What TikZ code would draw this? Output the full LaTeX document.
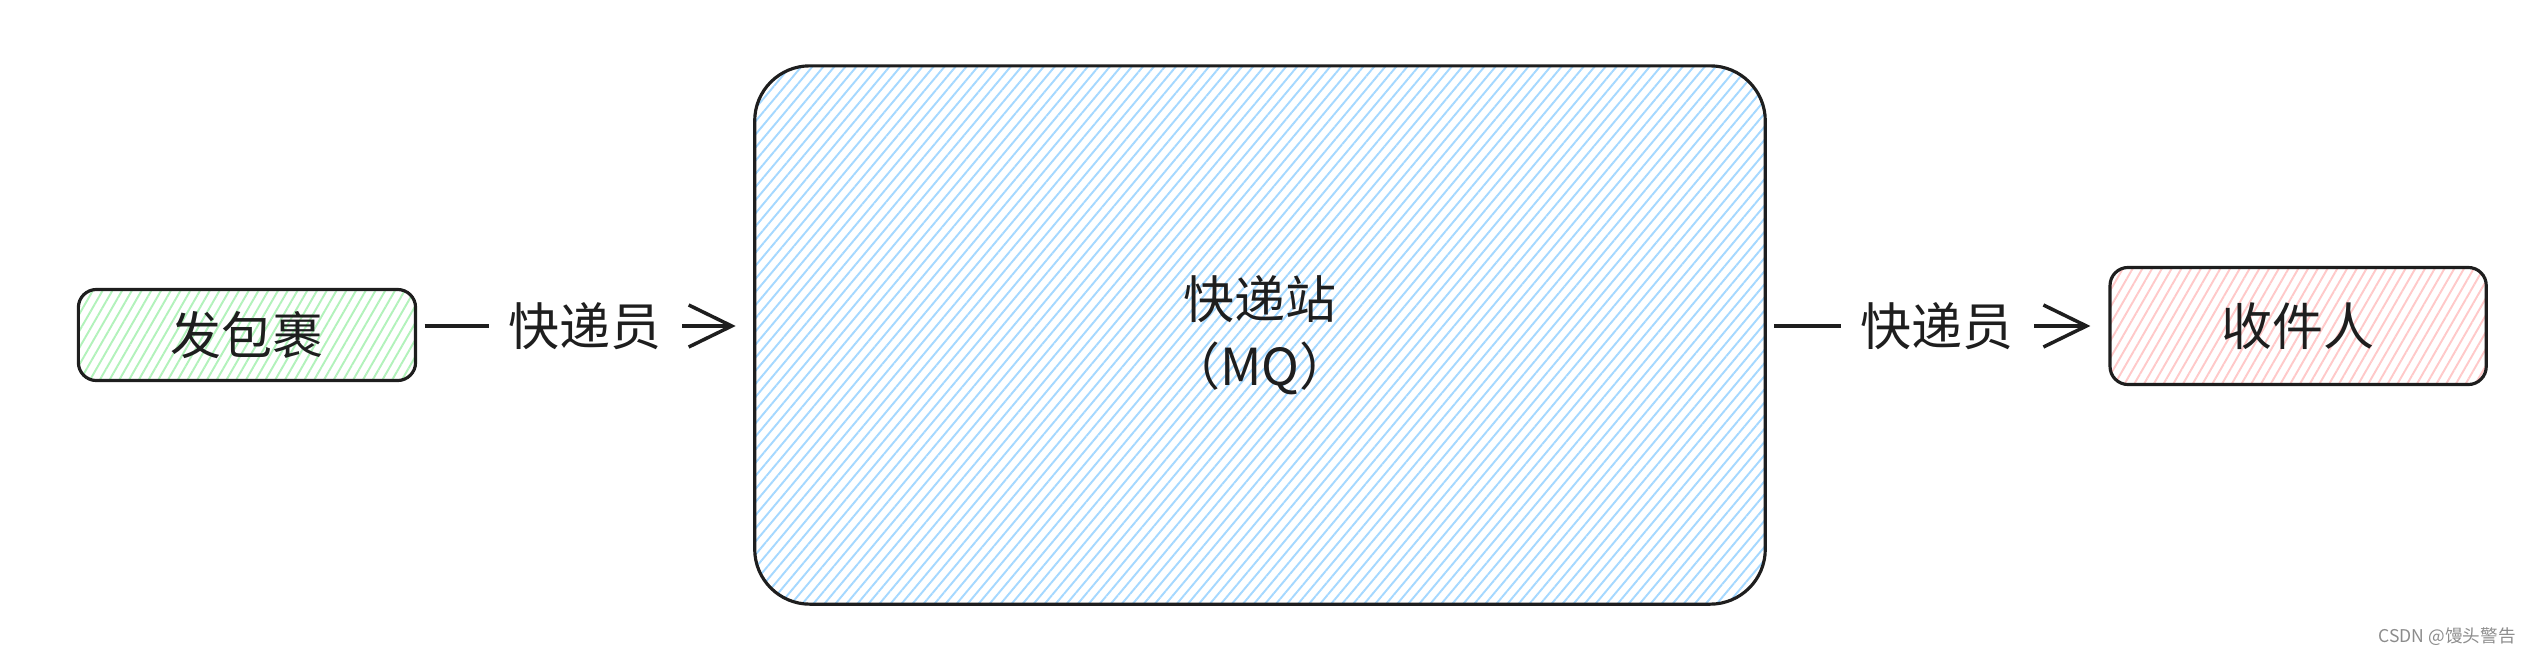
\documentclass[tikz,border=0pt]{standalone}
\usepackage{fontspec}
\newfontfamily\cjk{Noto Sans CJK SC}
\usetikzlibrary{positioning, arrows.meta, patterns.meta}

\definecolor{ink}{HTML}{1E1E1E}
\definecolor{bluehatch}{HTML}{A5D8FF}
\definecolor{greenhatch}{HTML}{B2F2BB}
\definecolor{redhatch}{HTML}{FFC9C9}

\begin{document}
\begin{tikzpicture}[x=0.01cm, y=-0.01cm,
		every node/.style={font=\cjk\fontsize{14.5}{19}\selectfont, text=ink, align=center},
		box/.style={draw=ink, line width=0.9pt, rounded corners=0.18cm, inner sep=0pt},
		hatch/.style={pattern={Lines[angle=#1, distance=2.4pt, line width=0.55pt]}},
		conn/.style={draw=ink, line width=1pt, shorten <=0.08cm, shorten >=0.18cm,
			-{Straight Barb[length=0.43cm, width=0.42cm, line width=1pt]}},
		lbl/.style={fill=white, inner xsep=0.2cm, inner ysep=2pt},
		]
		\useasboundingbox (0,0) rectangle (2541,654);
		
		\node[box, hatch=50, pattern color=bluehatch, rounded corners=0.55cm,
			minimum width=10.1cm, minimum height=5.38cm] (mq) at (1260,335) {快递站\\（MQ）};
		\node[box, hatch=60, pattern color=greenhatch,
			minimum width=3.37cm, minimum height=0.91cm, left=3.37cm of mq] (pkg) {发包裹};
		\node[box, hatch=60, pattern color=redhatch,
			minimum width=3.76cm, minimum height=1.17cm, right=3.42cm of mq, yshift=0.09cm] (recv) {收件人};
		
		\draw[conn] ([yshift=0.09cm]pkg.east) -- ([yshift=0.09cm]pkg.east -| mq.west)
			node[lbl, midway] (c1) {快递员};
		\draw[conn] (mq.east |- recv.west) -- (recv.west)
			node[lbl, midway] (c2) {快递员};
		
		\node[font=\cjk\fontsize{5}{6}\selectfont, text=black!45, anchor=east] (mark) at (2528,637) {CSDN @馒头警告};
	\end{tikzpicture}
\end{document}
